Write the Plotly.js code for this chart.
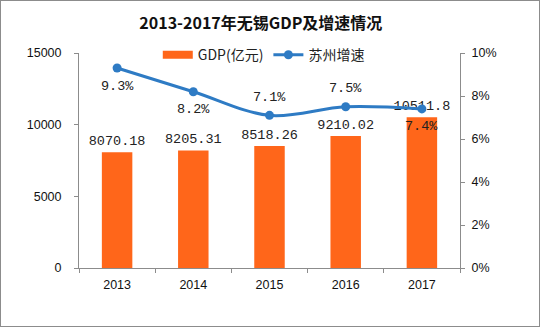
<!DOCTYPE html>
<html><head><meta charset="utf-8">
<script src="https://cdn.plot.ly/plotly-3.0.1.min.js"></script>
<style>html,body{margin:0;padding:0;background:#fff}#c{width:538px;height:325px;border:1px solid #8c8c8c}</style>
</head><body><div id="c"></div>
<script>
const years = ['2013','2014','2015','2016','2017'];
const gdp = [8070.18, 8205.31, 8518.26, 9210.02, 10511.8];
const gdpLabels = ['8070.18','8205.31','8518.26','9210.02','10511.8'];
const growth = [9.3, 8.2, 7.1, 7.5, 7.4];
const growthLabels = ['9.3%','8.2%','7.1%','7.5%','7.4%'];
const growthLabelSide = [-1, -1, 1, 1, -1];
const leftTicks = [0, 5000, 10000, 15000];
const leftTickText = ['0','5000','10000','15000'];
const rightTicks = [0, 2, 4, 6, 8, 10];
const rightTickText = ['0%','2%','4%','6%','8%','10%'];

const barColor = '#ff661a', lineColor = '#2e7bc4';
const labelFont = {family:'Liberation Mono, DejaVu Sans Mono, monospace', size:13.5, color:'#222'};
const tickFont = {family:'Liberation Sans, Arial, sans-serif', size:12.5, color:'#111'};
const traces = [
  {type:'bar', name:'GDP(亿元)', x:years, y:gdp, text:gdpLabels, texttemplate:'%{text}',
   textposition:'outside', constraintext:'none', textfont:labelFont, cliponaxis:false,
   marker:{color:barColor}, width:0.4, showlegend:false},
  {type:'scatter', name:'GDP(亿元)', x:[0], y:[null], xaxis:'x2', yaxis:'y3', mode:'lines',
   line:{color:barColor, width:8}, showlegend:true},
  {type:'scatter', name:'苏州增速', x:years, y:growth, yaxis:'y2', mode:'lines+markers',
   cliponaxis:false, line:{color:lineColor, width:3, shape:'spline'}, marker:{color:lineColor, size:9}}
];
const annotations = years.map((yr, i) => ({
  x: i, y: growth[i], xref:'x', yref:'y2', text: growthLabels[i], showarrow:false,
  yshift: growthLabelSide[i] * 18, font: labelFont
}));
const layout = {
  width:538, height:325,
  margin:{l:78, r:79, t:52, b:58},
  paper_bgcolor:'#fff', plot_bgcolor:'#fff',
  title:{text:'<b>2013-2017年无锡GDP及增速情况</b>', x:0.483, xanchor:'center', y:0.93, yanchor:'middle',
    font:{family:'Noto Sans CJK SC, sans-serif', size:16, color:'#111'}},
  showlegend:true, annotations: annotations,
  legend:{orientation:'h', x:0.485, xanchor:'center', y:0.99, yanchor:'middle', itemwidth:30,
    font:{family:'Noto Sans CJK SC, sans-serif', size:14, color:'#222'}, bgcolor:'rgba(0,0,0,0)', traceorder:'normal'},
  xaxis:{type:'category', showline:true, linecolor:'#8c8c8c', linewidth:1,
    ticks:'outside', tickson:'boundaries', tickangle:0, ticklabelstandoff:5,
    ticklen:4, tickcolor:'#8c8c8c', showgrid:false, zeroline:false, tickfont:tickFont},
  xaxis2:{visible:false, overlaying:'x', range:[0,1]},
  yaxis3:{visible:false, overlaying:'y', range:[0,1]},
  yaxis:{range:[0,15000], tickvals:leftTicks, ticktext:leftTickText, showline:true, linecolor:'#8c8c8c', linewidth:1,
    ticks:'outside', ticklen:4, tickcolor:'#8c8c8c', showgrid:false, zeroline:false, tickfont:tickFont,
    ticklabelstandoff:10},
  yaxis2:{range:[0,10], overlaying:'y', side:'right', tickvals:rightTicks, ticktext:rightTickText,
    showline:true, linecolor:'#8c8c8c', linewidth:1, ticks:'outside', ticklen:4, tickcolor:'#8c8c8c',
    showgrid:false, zeroline:false, tickfont:tickFont, ticklabelstandoff:4}
};
Plotly.newPlot('c', traces, layout, {displayModeBar:false, staticPlot:true});
</script></body></html>
